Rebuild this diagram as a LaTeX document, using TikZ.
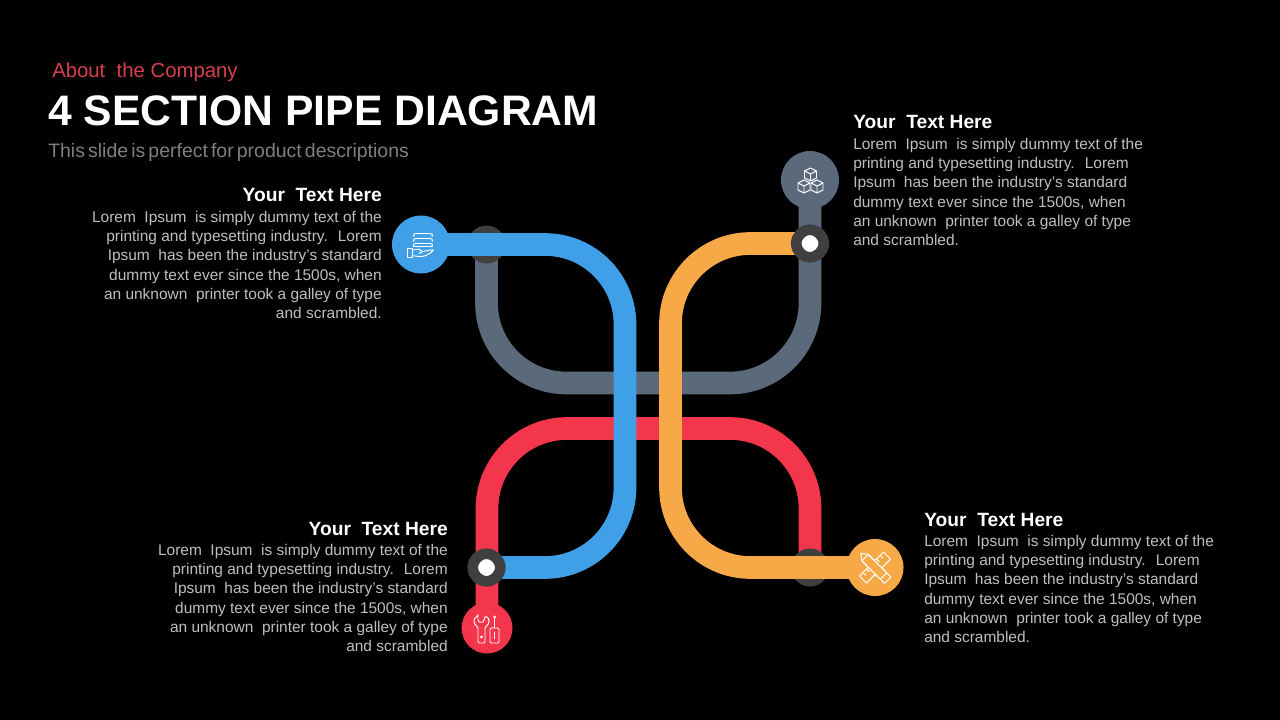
\documentclass[tikz,border=0pt]{standalone}
\usepackage{fontspec}
\setmainfont{Liberation Sans}
\usepackage{xcolor}
\usetikzlibrary{shapes.geometric,calc}

\definecolor{pipeblue}{HTML}{3FA0E8}
\definecolor{pipeorange}{HTML}{F7A948}
\definecolor{pipered}{HTML}{F4364C}
\definecolor{pipegrey}{HTML}{5A6A7B}
\definecolor{ringgrey}{HTML}{3F3F3F}
\definecolor{bodygrey}{HTML}{BFBFBF}
\definecolor{subgrey}{HTML}{7F7F7F}
\definecolor{aboutred}{HTML}{D9404F}

\tikzset{
  pipe/.style={line width=17pt,rounded corners=60pt},
  disc/.style={circle,inner sep=0pt,minimum size=#1*0.75pt},
  stub/.style={circle,inner sep=0pt,fill=ringgrey,minimum size=28.5pt},
  ring/.style={circle,inner sep=0pt,fill=white,draw=ringgrey,line width=8pt,minimum size=20.6pt},
  icon/.style={draw=white,line width=0.7pt,line join=round,line cap=round},
  heading/.style={inner sep=0pt,text=white,font=\bfseries\fontsize{14.4}{18}\selectfont},
  bodytext/.style={inner sep=0pt,text=bodygrey,font=\fontsize{11.6}{14.4}\selectfont},
}

\begin{document}
\begin{tikzpicture}[x=0.75pt,y=-0.75pt]
\fill[black] (0,0) rectangle (1280,720);
\useasboundingbox (0,0) rectangle (1280,720);

% title
\node[anchor=base west,inner sep=0pt,text=aboutred,font=\fontsize{15.25}{18}\selectfont] (about) at (52,78) {About~ the Company};
\node[anchor=base west,inner sep=0pt,text=white,font=\bfseries\fontsize{32}{40}\selectfont] (title) at (48,126) {4 SECTION PIPE DIAGRAM};
\node[anchor=base west,inner sep=0pt,text=subgrey,font=\fontsize{14.6}{18}\selectfont] (subtitle) at (48,158) {\spaceskip=0.16em\relax This slide is perfect for product descriptions};

% pipe ends
\coordinate (greyend) at (486.5,244.5);
\coordinate (redend) at (810,567.5);
\coordinate (blueend) at (486.5,567.5);
\coordinate (orangeend) at (810,243.5);
\coordinate (greystart) at (810,180);
\coordinate (redstart) at (487,628);
\coordinate (bluestart) at (421,244.5);
\coordinate (orangestart) at (875,567.5);

% under pipes
\draw[pipe,pipegrey] (greystart) -- (810,383) -- (486.5,383) -- (greyend);
\draw[pipe,pipered] (redstart) -- (487,428.5) -- (810,428.5) -- (redend);
\node[stub] (greystub) at (greyend) {};
\node[stub] (redstub) at (redend) {};

% over pipes
\draw[pipe,pipeblue] (bluestart) -- (625,244.5) -- (625,567.5) -- (blueend);
\draw[pipe,pipeorange] (orangestart) -- (670.5,567.5) -- (670.5,243.5) -- (orangeend);
\node[ring] (bluering) at (blueend) {};
\node[ring] (orangering) at (orangeend) {};

% discs
\node[disc=58,fill=pipeblue] (bluedisc) at (bluestart) {};
\node[disc=58,fill=pipegrey] (greydisc) at (greystart) {};
\node[disc=51,fill=pipered] (reddisc) at (redstart) {};
\node[disc=57,fill=pipeorange] (orangedisc) at (orangestart) {};

% hand and plates
\begin{scope}[shift={(421,244.5)},icon]
\foreach \py in {-11,-6,-1}
  \draw[rounded corners=1pt] (-7,\py+3) -- (-8,\py+1) -- (-6,\py) -- (10,\py) -- (12,\py+1) -- (11,\py+3);
\draw (-8,2) -- (11,2);
\draw (-14,4) rectangle (-9,13);
\draw[rounded corners=1.5pt] (-9,6) -- (-4,4) -- (2,7) -- (-2,9) (2,7) -- (12,5) -- (12,7) -- (3,12) -- (-3,12) -- (-9,11);
\end{scope}

% cubes
\begin{scope}[shift={(810.5,180.5)},icon]
\foreach \cx/\cy in {0/-6,-6.5/6,6.5/6}
  \draw[shift={(\cx,\cy)}] (0,-6.5) -- (6,-3.5) -- (6,3.5) -- (0,6.5) -- (-6,3.5) -- (-6,-3.5) -- cycle
    (-6,-3.5) -- (0,-0.5) -- (6,-3.5) (0,-0.5) -- (0,6.5);
\end{scope}

% wrench and screwdriver
\begin{scope}[shift={(487,628)},icon]
\draw[rounded corners=1pt] (-9,-12) -- (-9,-7) -- (-6,-5) -- (-3,-7) -- (-2,-12) .. controls (3,-10) and (3,-4) .. (-2,-1) -- (-2,15) -- (-9,15) -- (-9,-1) .. controls (-14,-4) and (-14,-10) .. cycle;
\draw (-5.5,9) circle (1);
\fill[white] (7.5,-11) circle (1.5);
\draw (7.5,-11) -- (7.5,0);
\draw[rounded corners=1pt] (3,0) -- (12,0) -- (12,15) -- (3,15) -- cycle;
\draw (7.5,4) -- (7.5,11);
\end{scope}

% pencil and ruler
\begin{scope}[shift={(875,567.5)},icon]
\begin{scope}[rotate=-45]
\draw (-20,0) -- (-14,-4.5) -- (18,-4.5) -- (18,4.5) -- (-14,4.5) -- cycle;
\draw (-14,-4.5) -- (-14,4.5) (12,-4.5) -- (12,4.5);
\end{scope}
\begin{scope}[rotate=45]
\fill[pipeorange] (-17,-5) rectangle (17,5);
\draw (-17,-5) rectangle (17,5);
\foreach \tx in {-12,-7,7,12}
  \draw (\tx,-5) -- (\tx,-1);
\end{scope}
\begin{scope}[rotate=-45]
\fill[pipeorange] (-6,-4.5) rectangle (6,4.5);
\draw (-14,-4.5) -- (8,-4.5) (-14,4.5) -- (8,4.5);
\end{scope}
\end{scope}

% top left text
\node[heading,anchor=base east] (lefttophead) at (382,202) {Your~ Text Here};
\node[bodytext,anchor=north east,align=right] (lefttoptext) at (382,211) {Lorem~ Ipsum~ is simply dummy text of the\\
printing and typesetting industry.~ Lorem\\
Ipsum~ has been the industry's standard\\
dummy text ever since the 1500s, when\\
an unknown~ printer took a galley of type\\
and scrambled.};

% top right text
\node[heading,anchor=base west] (righttophead) at (853,129) {Your~ Text Here};
\node[bodytext,anchor=north west,align=left] (righttoptext) at (853,138) {Lorem~ Ipsum~ is simply dummy text of the\\
printing and typesetting industry.~ Lorem\\
Ipsum~ has been the industry's standard\\
dummy text ever since the 1500s, when\\
an unknown~ printer took a galley of type\\
and scrambled.};

% bottom left text
\node[heading,anchor=base east] (leftbothead) at (448,535) {Your~ Text Here};
\node[bodytext,anchor=north east,align=right] (leftbottext) at (448,544) {Lorem~ Ipsum~ is simply dummy text of the\\
printing and typesetting industry.~ Lorem\\
Ipsum~ has been the industry's standard\\
dummy text ever since the 1500s, when\\
an unknown~ printer took a galley of type\\
and scrambled};

% bottom right text
\node[heading,anchor=base west] (rightbothead) at (924,526) {Your~ Text Here};
\node[bodytext,anchor=north west,align=left] (rightbottext) at (924,535) {Lorem~ Ipsum~ is simply dummy text of the\\
printing and typesetting industry.~ Lorem\\
Ipsum~ has been the industry's standard\\
dummy text ever since the 1500s, when\\
an unknown~ printer took a galley of type\\
and scrambled.};
\end{tikzpicture}
\end{document}
